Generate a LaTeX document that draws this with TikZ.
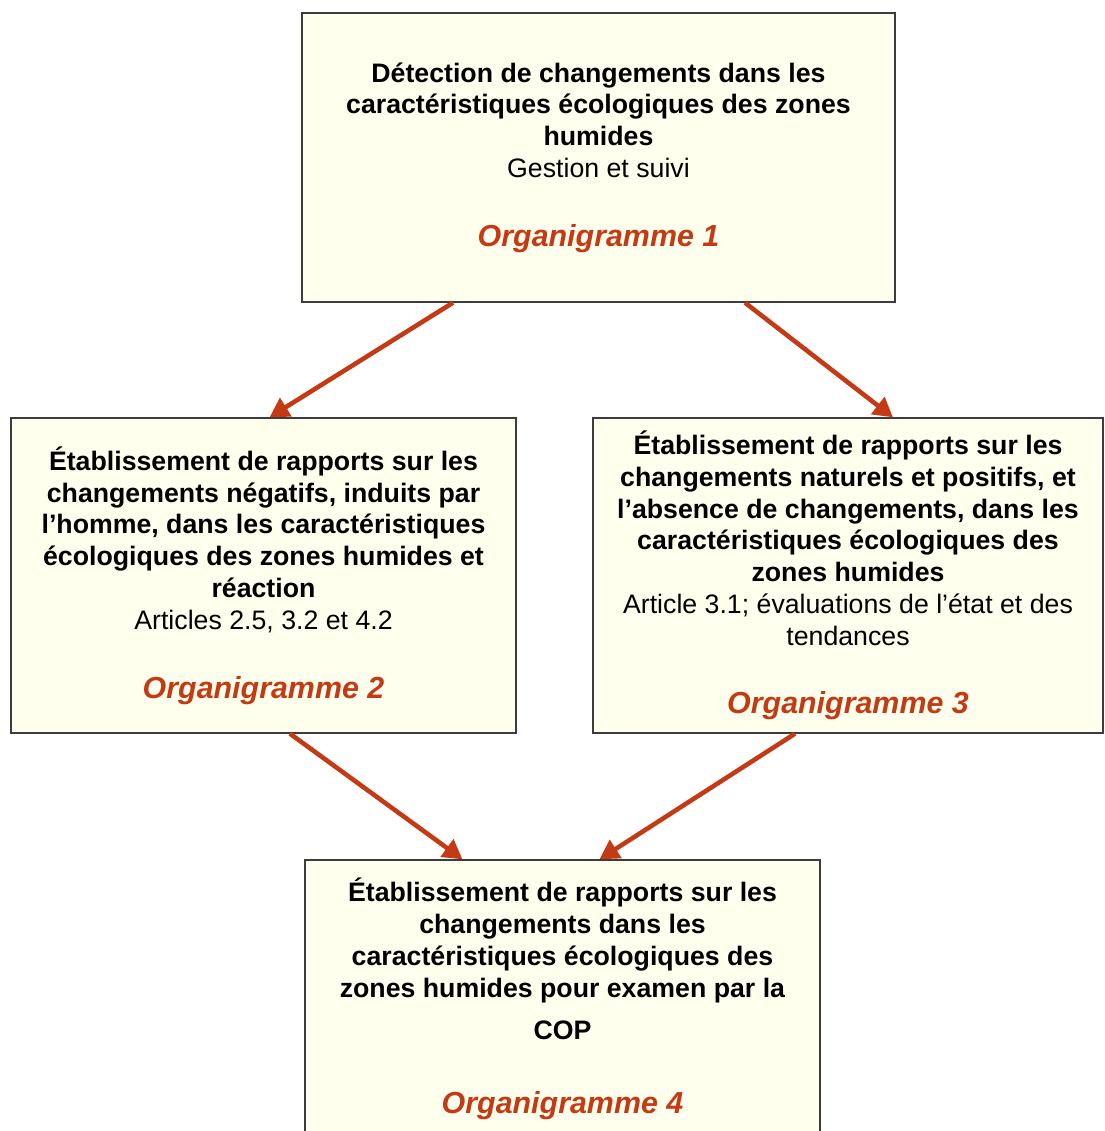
\documentclass[tikz,border=0pt]{standalone}
\usepackage{fontspec}
\setmainfont{Liberation Sans}
\usetikzlibrary{arrows.meta}
\definecolor{boxfill}{RGB}{255,255,237}
\definecolor{arrowred}{RGB}{196,58,20}
\definecolor{framegray}{RGB}{60,60,60}
\newcommand\orga[1]{{\fontsize{17.3}{18}\selectfont\bfseries\itshape\color{arrowred}Organigramme #1}}
\begin{document}
\begin{tikzpicture}[x=0.02cm,y=-0.02cm,
  chartbox/.style={draw=framegray, line width=0.8pt, fill=boxfill, inner sep=0pt, align=center, font=\fontsize{15.2}{18.1}\selectfont},
  flow/.style={draw=arrowred, line width=2.6pt, -{Triangle[length=11pt,width=12pt]}}]
\useasboundingbox (0,0) rectangle (1104,1131);
\node[chartbox, minimum width=11.86cm, minimum height=5.78cm] (detect) at (598.5,157.5)
  {\textbf{Détection de changements dans les}\\ \textbf{caractéristiques écologiques des zones}\\ \textbf{humides}\\ Gestion et suivi\\[21pt] \orga{1}};
\node[chartbox, minimum width=10.1cm, minimum height=6.3cm] (negchg) at (263.5,575.5)
  {\textbf{Établissement de rapports sur les}\\ \textbf{changements négatifs, induits par}\\ \textbf{l’homme, dans les caractéristiques}\\ \textbf{écologiques des zones humides et}\\ \textbf{réaction}\\ Articles 2.5, 3.2 et 4.2\\[21pt] \orga{2}};
\node[chartbox, minimum width=10.2cm, minimum height=6.3cm] (poschg) at (848,575.5)
  {\textbf{Établissement de rapports sur les}\\ \textbf{changements naturels et positifs, et}\\ \textbf{l’absence de changements, dans les}\\ \textbf{caractéristiques écologiques des}\\ \textbf{zones humides}\\ Article 3.1; évaluations de l’état et des\\ tendances\\[21pt] \orga{3}};
\node[chartbox, minimum width=10.3cm, minimum height=5.56cm] (report) at (562.5,999)
  {\textbf{Établissement de rapports sur les}\\ \textbf{changements dans les}\\ \textbf{caractéristiques écologiques des}\\ \textbf{zones humides pour examen par la}\\[6pt] \textbf{COP}\\[24pt] \orga{4}};
\draw[flow] ([xshift=-2.91cm]detect.south) -- ([xshift=0.12cm]negchg.north);
\draw[flow] ([xshift=2.93cm]detect.south) -- ([xshift=0.9cm]poschg.north);
\draw[flow] ([xshift=0.53cm]negchg.south) -- ([xshift=-2cm]report.north);
\draw[flow] ([xshift=-1.06cm]poschg.south) -- ([xshift=0.74cm]report.north);
\end{tikzpicture}
\end{document}
